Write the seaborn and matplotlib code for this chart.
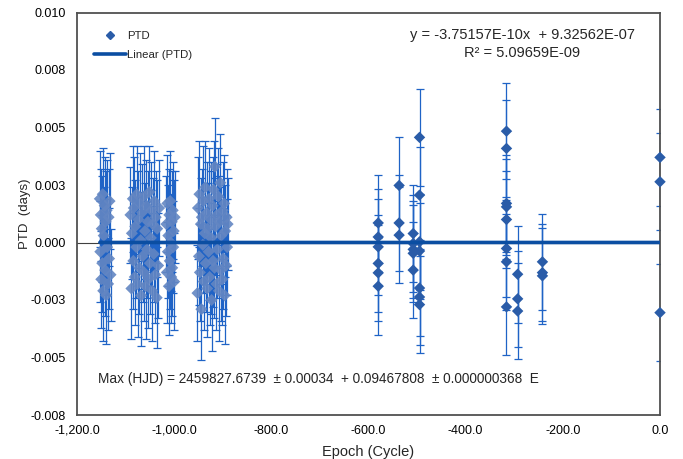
import matplotlib
matplotlib.use('Agg')
import matplotlib.pyplot as plt
import seaborn as sns
import pandas as pd
from matplotlib.lines import Line2D

# 촘촘한 관측 구간 (Epoch, PTD, 오차)
c1_epoch = [-1153, -1152, -1151, -1150, -1149, -1148, -1147, -1146, -1145, -1143,
            -1142, -1141, -1140, -1139, -1138, -1136, -1135, -1134, -1133, -1131]
c1_ptd = [0.0019, -0.0004, 0.0012, -0.0016, 0.0006, -0.0009, 0.0021, -0.0021, 0.0003, 0.0016,
          -0.0012, 0.0009, -0.0023, 0.0014, -0.0002, -0.0018, 0.0011, -0.0007, 0.0018, -0.0014]
c1_err = [0.0021, 0.0022, 0.0020, 0.0021, 0.0023, 0.0021, 0.0020, 0.0022, 0.0021, 0.0021,
          0.0020, 0.0022, 0.0021, 0.0022, 0.0021, 0.0020, 0.0021, 0.0022, 0.0021, 0.0020]

c2_epoch = [-1090, -1088, -1087, -1085, -1084, -1083, -1081, -1080, -1078, -1077,
            -1075, -1074, -1072, -1071, -1069, -1068, -1066, -1065, -1063, -1062,
            -1060, -1059, -1057, -1056, -1054, -1053, -1051, -1050, -1048, -1047,
            -1045, -1044, -1042, -1041, -1039, -1038, -1036, -1035, -1033, -1031]
c2_ptd = [0.0012, -0.0020, 0.0004, 0.0019, -0.0008, 0.0015, -0.0015, 0.0007, -0.0002, 0.0021,
          -0.0018, 0.0010, -0.0011, 0.0017, 0.0001, -0.0023, 0.0013, -0.0006, 0.0020, -0.0013,
          0.0005, -0.0019, 0.0016, -0.0003, 0.0009, -0.0016, 0.0022, -0.0009, 0.0002, 0.0014,
          -0.0021, 0.0008, -0.0005, 0.0018, -0.0014, 0.0011, -0.0024, 0.0006, -0.0010, 0.0015]
c2_err = [0.0021, 0.0022, 0.0020, 0.0023, 0.0021, 0.0022, 0.0021, 0.0020, 0.0022, 0.0021,
          0.0023, 0.0021, 0.0020, 0.0022, 0.0021, 0.0022, 0.0021, 0.0020, 0.0022, 0.0021,
          0.0021, 0.0023, 0.0020, 0.0021, 0.0022, 0.0021, 0.0020, 0.0022, 0.0021, 0.0021,
          0.0022, 0.0020, 0.0021, 0.0022, 0.0021, 0.0020, 0.0022, 0.0021, 0.0023, 0.0021]

c3_epoch = [-1016, -1015, -1014, -1013, -1012, -1011, -1010, -1009, -1008,
            -1007, -1006, -1005, -1004, -1003, -1002, -1001, -1000, -999]
c3_ptd = [0.0008, -0.0013, 0.0017, -0.0004, 0.0003, -0.0019, 0.0012, -0.0008, 0.0018,
          0.0000, -0.0015, 0.0009, -0.0011, 0.0014, -0.0002, 0.0005, -0.0017, 0.0011]
c3_err = [0.0021, 0.0022, 0.0021, 0.0020, 0.0022, 0.0021, 0.0020, 0.0021, 0.0022,
          0.0021, 0.0020, 0.0022, 0.0021, 0.0021, 0.0020, 0.0022, 0.0021, 0.0020]

c4_epoch = [-952, -951, -949, -948, -947, -945, -944, -943, -941, -940, -939, -937,
            -936, -935, -933, -932, -931, -929, -928, -927, -925, -924, -923, -921,
            -920, -919, -917, -916, -915, -913, -912, -911, -909, -908, -907, -905,
            -904, -903, -901, -900, -899, -897, -896, -895, -893, -892, -891, -890]
c4_ptd = [-0.0022, 0.0015, -0.0006, 0.0021, -0.0013, 0.0008, -0.0029, 0.0011, -0.0001, 0.0018,
          -0.0017, 0.0004, 0.0024, -0.0009, 0.0013, -0.0020, 0.0006, -0.0004, 0.0019, -0.0015,
          0.0010, 0.0002, -0.0025, 0.0016, -0.0008, 0.0023, -0.0011, 0.0033, 0.0007, -0.0018,
          0.0012, -0.0003, 0.0020, -0.0021, 0.0009, 0.0026, -0.0012, 0.0003, -0.0016, 0.0014,
          -0.0007, 0.0017, -0.0023, 0.0005, -0.0010, 0.0011, -0.0002, 0.0008]
c4_err = [0.0021, 0.0022, 0.0021, 0.0023, 0.0021, 0.0020, 0.0022, 0.0021, 0.0021, 0.0024,
          0.0021, 0.0022, 0.0020, 0.0021, 0.0022, 0.0021, 0.0020, 0.0021, 0.0022, 0.0021,
          0.0021, 0.0033, 0.0022, 0.0021, 0.0020, 0.0021, 0.0022, 0.0021, 0.0021, 0.0020,
          0.0022, 0.0021, 0.0021, 0.0022, 0.0020, 0.0021, 0.0022, 0.0021, 0.0020, 0.0021,
          0.0022, 0.0021, 0.0021, 0.0020, 0.0022, 0.0021, 0.0021, 0.0020]

# 드문드문 관측된 구간
s_epoch = [-580, -580, -580, -580, -580, -580,
           -537, -537, -537,
           -508, -508, -508, -508, -508,
           -495, -495, -495, -495, -495, -495, -495,
           -316, -316, -316, -316, -316, -316, -316, -316,
           -293, -293, -293,
           -242, -242, -242,
           0, 0, 0]
s_ptd = [0.00085, 0.00024, -0.00019, -0.00091, -0.00132, -0.0019,
         0.00248, 0.00085, 0.00032,
         0.00039, -0.00004, -0.0003, -0.00047, -0.0012,
         0.00457, 0.00206, 0.00003, -0.00037, -0.00198, -0.00237, -0.0027,
         0.00484, 0.00409, 0.0017, 0.00155, 0.001, -0.00026, -0.00084, -0.0028,
         -0.00138, -0.00245, -0.00298,
         -0.00084, -0.00131, -0.00145,
         0.0037, 0.00264, -0.00305]
s_err = [0.0021] * len(s_ptd)

# 선형 추세선 계수
slope = -3.75157e-10
intercept = 9.32562e-07

y_ticks = [-0.0075, -0.005, -0.0025, 0.0, 0.0025, 0.005, 0.0075, 0.01]
y_tick_labels = ['-0.008', '-0.005', '-0.003', '0.000', '0.003', '0.005', '0.008', '0.010']
x_ticks = [-1200, -1000, -800, -600, -400, -200, 0]
x_tick_labels = ['-1,200.0', '-1,000.0', '-800.0', '-600.0', '-400.0', '-200.0', '0.0']

dense = pd.DataFrame({'epoch': c1_epoch + c2_epoch + c3_epoch + c4_epoch,
                      'ptd': c1_ptd + c2_ptd + c3_ptd + c4_ptd,
                      'err': c1_err + c2_err + c3_err + c4_err})
sparse = pd.DataFrame({'epoch': s_epoch, 'ptd': s_ptd, 'err': s_err})
all_epoch = dense['epoch'].tolist() + sparse['epoch'].tolist()
fit = pd.DataFrame({'epoch': [min(all_epoch), max(all_epoch)]})
fit['ptd'] = slope * fit['epoch'] + intercept

sns.set_theme(style='white')
plt.rcParams['font.family'] = ['Liberation Sans', 'DejaVu Sans']

fig, ax = plt.subplots(figsize=(6.83, 4.59), dpi=100)
fig.subplots_adjust(left=77 / 683, right=660 / 683, top=1 - 12.5 / 459, bottom=1 - 415 / 459)

bar_color = '#1f63c6'
ax.axhline(0, color='#404040', lw=0.8, zorder=1)

# 촘촘한 구간: 오차막대 + 다이아몬드 마커
ax.errorbar(dense['epoch'], dense['ptd'], yerr=dense['err'], fmt='none', ecolor=bar_color,
            elinewidth=0.9, capsize=2.8, capthick=0.9, zorder=2)
sns.scatterplot(data=dense, x='epoch', y='ptd', marker='D', s=38, color='#6386c2',
                edgecolor='none', alpha=0.9, zorder=3, ax=ax, legend=False)

# 드문 구간 (오른쪽 끝 마커가 잘리지 않도록 clip 해제)
ax.errorbar(sparse['epoch'], sparse['ptd'], yerr=sparse['err'], fmt='none', ecolor=bar_color,
            elinewidth=0.9, capsize=2.8, capthick=0.9, zorder=2)
n_before = len(ax.collections)
sns.scatterplot(data=sparse, x='epoch', y='ptd', marker='D', s=34, color='#2a5ca8',
                edgecolor='none', zorder=4, ax=ax, legend=False)
for coll in ax.collections[n_before:]:
    coll.set_clip_on(False)

sns.lineplot(data=fit, x='epoch', y='ptd', color='#0b4ea2', lw=2.6, zorder=5, ax=ax)

ax.set_xlim(-1200, 0)
ax.set_ylim(-0.0075, 0.01)
ax.set_xticks(x_ticks)
ax.set_xticklabels(x_tick_labels)
ax.set_yticks(y_ticks)
ax.set_yticklabels(y_tick_labels)
ax.tick_params(length=0, labelsize=9, colors='#000000')
ax.tick_params(axis='y', pad=8)
ax.tick_params(axis='x', pad=7)

for sp in ax.spines.values():
    sp.set_visible(True)
    sp.set_color('#505050')
    sp.set_linewidth(1.3)

ax.set_xlabel('Epoch (Cycle)', fontsize=10.5)
ax.set_ylabel('PTD  (days)', fontsize=9.5)
ax.xaxis.set_label_coords(0.5, -0.075)
ax.yaxis.set_label_coords(-0.079, 0.5)

handles = [Line2D([], [], marker='D', ls='none', color='#2a5ca8', markersize=4),
           Line2D([], [], color='#0b4ea2', lw=2.6)]
ax.legend(handles, ['PTD', 'Linear (PTD)'], loc='upper left', bbox_to_anchor=(0.022, 0.965),
          frameon=False, fontsize=8.2, handlelength=2.8, handletextpad=0.1, labelspacing=0.75,
          borderaxespad=0)

fig.text(522 / 683, 1 - 35 / 459, 'y = -3.75157E-10x  + 9.32562E-07',
         ha='center', va='center', fontsize=10.5)
fig.text(522 / 683, 1 - 53 / 459, 'R² = 5.09659E-09', ha='center', va='center', fontsize=10.5)
fig.text(98 / 683, 1 - 379 / 459,
         'Max (HJD) = 2459827.6739  ± 0.00034  + 0.09467808  ± 0.000000368  E',
         ha='left', va='center', fontsize=9.8)

fig.savefig('out.png', dpi=100)
